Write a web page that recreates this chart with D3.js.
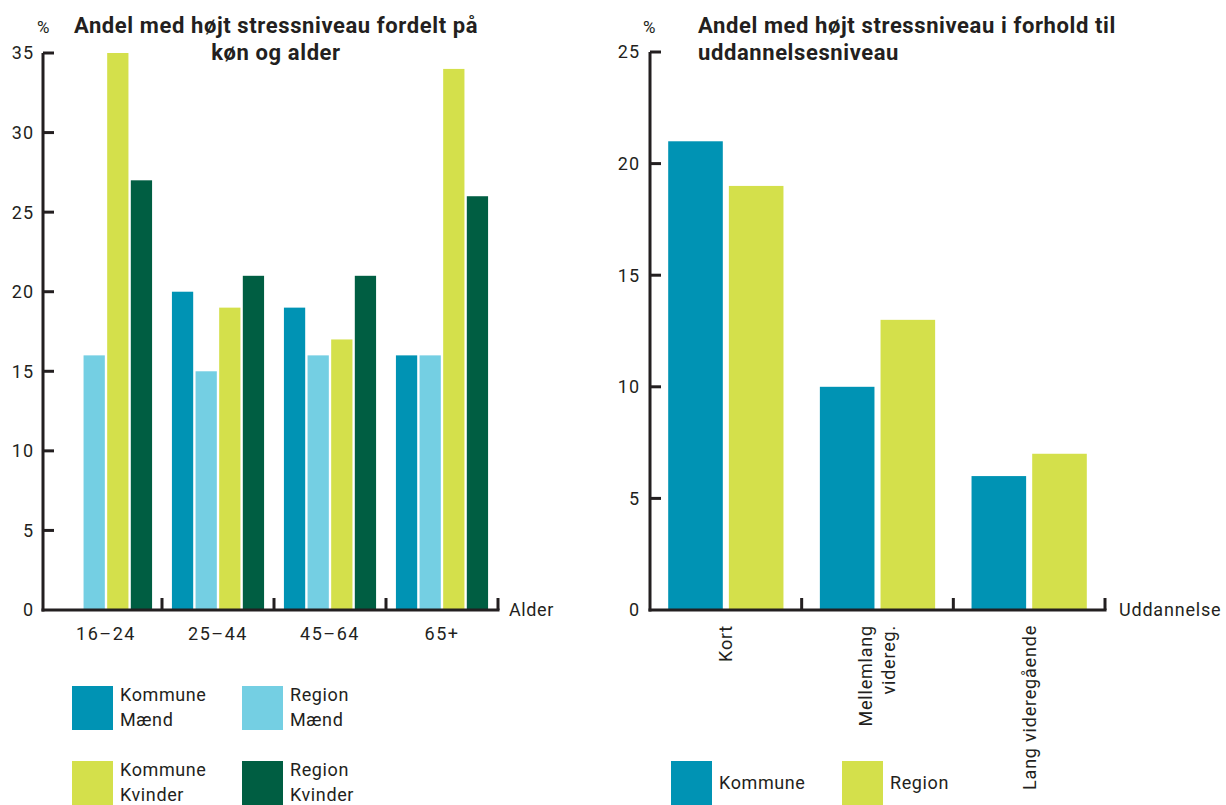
<!DOCTYPE html>
<html><head><meta charset="utf-8">
<script src="https://cdn.jsdelivr.net/npm/d3@7"></script>
<style>
body{margin:0;background:#fff;}
svg text{font-family:Roboto, "DejaVu Sans", sans-serif;fill:#231f20;}
</style></head>
<body><svg id="c" width="1226" height="805"></svg>
<script>
// ---- data ----
const ageGroups = ["16-24","25-44","45-64","65+"];
const leftSeries = ["Kommune Mænd","Region Mænd","Kommune Kvinder","Region Kvinder"];
const kommuneMaend = [0,20,19,16];
const regionMaend = [16,15,16,16];
const kommuneKvinder = [35,19,17,34];
const regionKvinder = [27,21,21,26];
const leftTicks = [0,5,10,15,20,25,30,35];

const eduGroups = ["Kort","Mellemlang\nvidereg.","Lang videregående"];
const rightSeries = ["Kommune","Region"];
const eduKommune = [21,10,6];
const eduRegion = [19,13,7];
const rightTicks = [0,5,10,15,20,25];

const colors = {"Kommune Mænd":"#0093b4","Region Mænd":"#74cfe3","Kommune Kvinder":"#d4e04b","Region Kvinder":"#005e42","Kommune":"#0093b4","Region":"#d4e04b"};

const svg = d3.select("#c");
const axisColor = "#231f20";
const FS = 18, LS = "0.6px";

// ---------- LEFT CHART ----------
{
  const g = svg.append("g");
  const x0 = 43, xEnd = 498, yBase = 610, yTop = 53;
  const y = d3.scaleLinear().domain([0,35]).range([yBase,yTop]);
  const xb = d3.scaleBand().domain(ageGroups).range([50,xEnd]).paddingInner(0).paddingOuter(0);
  const xi = d3.scaleBand().domain(leftSeries).range([0,xb.bandwidth()]).paddingInner(0.1).paddingOuter(0.42);
  const vals = [kommuneMaend,regionMaend,kommuneKvinder,regionKvinder];
  leftSeries.forEach((s,si)=>{
    g.selectAll(null).data(ageGroups).enter().append("rect")
      .attr("x",d=>xb(d)+xi(s))
      .attr("width",xi.bandwidth())
      .attr("y",(d,i)=>y(vals[si][i]))
      .attr("height",(d,i)=>yBase-y(vals[si][i]))
      .attr("fill",colors[s]);
  });
  // y axis
  g.append("line").attr("x1",x0).attr("x2",x0).attr("y1",y(35)).attr("y2",yBase+1.5).attr("stroke",axisColor).attr("stroke-width",3);
  leftTicks.forEach(t=>{
    if(t>0) g.append("line").attr("x1",x0).attr("x2",x0+11).attr("y1",y(t)).attr("y2",y(t)).attr("stroke",axisColor).attr("stroke-width",3);
    g.append("text").attr("x",34).attr("y",y(t)).attr("dy","0.36em").attr("text-anchor","end").attr("font-size",FS).attr("letter-spacing","1px").text(t);
  });
  // x axis
  g.append("line").attr("x1",x0-1.5).attr("x2",xEnd+1.5).attr("y1",yBase).attr("y2",yBase).attr("stroke",axisColor).attr("stroke-width",3);
  ageGroups.forEach((d,i)=>{
    const tx = xb(d)+xb.bandwidth();
    g.append("line").attr("x1",tx).attr("x2",tx).attr("y1",yBase).attr("y2",yBase-12).attr("stroke",axisColor).attr("stroke-width",3);
    g.append("text").attr("x",xb(d)+xb.bandwidth()/2).attr("y",640).attr("text-anchor","middle").attr("font-size",FS).attr("letter-spacing","1.5px").text(d.replace("-","\u2013"));
  });
  g.append("text").attr("x",509).attr("y",yBase).attr("dy","0.36em").attr("font-size",FS).attr("letter-spacing",LS).text("Alder");
  // title (centered lines)
  g.append("text").attr("x",37).attr("y",33).attr("font-size",17).text("%");
  const tt = g.append("text").attr("x",276).attr("y",33).attr("text-anchor","middle").attr("font-size",22).attr("font-weight",700).attr("letter-spacing","0.6px");
  tt.append("tspan").attr("x",276).text("Andel med højt stressniveau fordelt på");
  tt.append("tspan").attr("x",276).attr("dy",27).text("køn og alder");
  // legend
  const legPos = [[72,686],[242,686],[72,761],[242,761]];
  const legLabels = [["Kommune","Mænd"],["Region","Mænd"],["Kommune","Kvinder"],["Region","Kvinder"]];
  leftSeries.forEach((s,i)=>{
    const [lx,ly]=legPos[i];
    g.append("rect").attr("x",lx).attr("y",ly).attr("width",41).attr("height",44).attr("fill",colors[s]);
    const t = g.append("text").attr("x",lx+48).attr("y",ly+15).attr("font-size",FS).attr("letter-spacing",LS);
    t.append("tspan").attr("x",lx+48).text(legLabels[i][0]);
    t.append("tspan").attr("x",lx+48).attr("dy",25).text(legLabels[i][1]);
  });
}

// ---------- RIGHT CHART ----------
{
  const g = svg.append("g");
  const x0 = 650, xEnd = 1105, yBase = 610, yTop = 52;
  const y = d3.scaleLinear().domain([0,25]).range([yBase,yTop]);
  const xb = d3.scaleBand().domain(eduGroups).range([x0,xEnd]);
  const xi = d3.scaleBand().domain(rightSeries).range([0,xb.bandwidth()]).paddingInner(0.1).paddingOuter(0.3);
  const vals = [eduKommune,eduRegion];
  rightSeries.forEach((s,si)=>{
    g.selectAll(null).data(eduGroups).enter().append("rect")
      .attr("x",d=>xb(d)+xi(s))
      .attr("width",xi.bandwidth())
      .attr("y",(d,i)=>y(vals[si][i]))
      .attr("height",(d,i)=>yBase-y(vals[si][i]))
      .attr("fill",colors[s]);
  });
  g.append("line").attr("x1",x0).attr("x2",x0).attr("y1",y(25)).attr("y2",yBase+1.5).attr("stroke",axisColor).attr("stroke-width",3);
  rightTicks.forEach(t=>{
    if(t>0) g.append("line").attr("x1",x0).attr("x2",x0+11).attr("y1",y(t)).attr("y2",y(t)).attr("stroke",axisColor).attr("stroke-width",3);
    g.append("text").attr("x",640).attr("y",y(t)).attr("dy","0.36em").attr("text-anchor","end").attr("font-size",FS).attr("letter-spacing","1px").text(t);
  });
  g.append("line").attr("x1",x0-1.5).attr("x2",xEnd+1.5).attr("y1",yBase).attr("y2",yBase).attr("stroke",axisColor).attr("stroke-width",3);
  eduGroups.forEach((d)=>{
    const tx = xb(d)+xb.bandwidth();
    g.append("line").attr("x1",tx).attr("x2",tx).attr("y1",yBase).attr("y2",yBase-12).attr("stroke",axisColor).attr("stroke-width",3);
    const cx = xb(d)+xb.bandwidth()/2;
    const lines = d.split("\n");
    const t = g.append("text").attr("transform",`translate(${cx},625) rotate(-90)`).attr("text-anchor","end").attr("font-size",FS).attr("letter-spacing","0.8px");
    lines.forEach((ln,li)=>{
      const off = (li-(lines.length-1)/2)*23;
      t.append("tspan").attr("x",0).attr("y",off).attr("dy","0.36em").text(ln);
    });
  });
  g.append("text").attr("x",1119).attr("y",yBase).attr("dy","0.36em").attr("font-size",FS).attr("letter-spacing","0.8px").text("Uddannelse");
  g.append("text").attr("x",643).attr("y",33).attr("font-size",17).text("%");
  const tt = g.append("text").attr("x",698).attr("y",33).attr("font-size",22).attr("font-weight",700).attr("letter-spacing","0.6px");
  tt.append("tspan").attr("x",698).text("Andel med højt stressniveau i forhold til");
  tt.append("tspan").attr("x",698).attr("dy",27).text("uddannelsesniveau");
  const legPos = [[671,761],[842,761]];
  rightSeries.forEach((s,i)=>{
    const [lx,ly]=legPos[i];
    g.append("rect").attr("x",lx).attr("y",ly).attr("width",41).attr("height",44).attr("fill",colors[s]);
    g.append("text").attr("x",lx+48).attr("y",ly+22).attr("dy","0.36em").attr("font-size",FS).attr("letter-spacing",LS).text(s);
  });
}
</script></body></html>
